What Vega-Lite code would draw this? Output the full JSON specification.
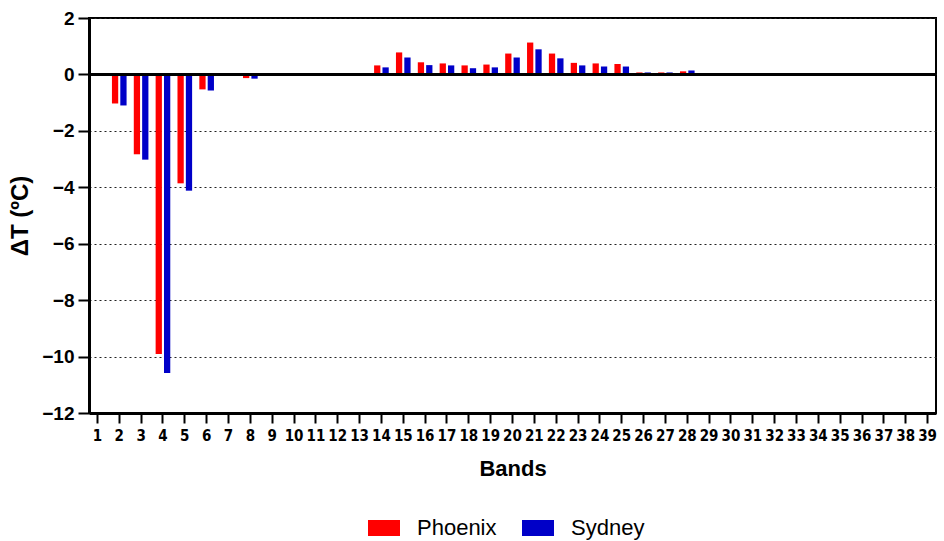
{
  "$schema": "https://vega.github.io/schema/vega-lite/v6.json",
  "width": 847,
  "height": 395,
  "autosize": {"type": "none"},
  "padding": {"left": 89, "top": 18, "right": 8, "bottom": 128},
  "background": "white",
  "config": {
    "view": {"stroke": "black", "strokeWidth": 2},
    "font": "Liberation Sans"
  },
  "data": {
    "values": [
      {"band": 2, "city": "Phoenix", "value": -1.03}, {"band": 2, "city": "Sydney", "value": -1.10},
      {"band": 3, "city": "Phoenix", "value": -2.83}, {"band": 3, "city": "Sydney", "value": -3.02},
      {"band": 4, "city": "Phoenix", "value": -9.91}, {"band": 4, "city": "Sydney", "value": -10.58},
      {"band": 5, "city": "Phoenix", "value": -3.86}, {"band": 5, "city": "Sydney", "value": -4.12},
      {"band": 6, "city": "Phoenix", "value": -0.53}, {"band": 6, "city": "Sydney", "value": -0.57},
      {"band": 8, "city": "Phoenix", "value": -0.13}, {"band": 8, "city": "Sydney", "value": -0.15},
      {"band": 14, "city": "Phoenix", "value": 0.32}, {"band": 14, "city": "Sydney", "value": 0.25},
      {"band": 15, "city": "Phoenix", "value": 0.78}, {"band": 15, "city": "Sydney", "value": 0.60},
      {"band": 16, "city": "Phoenix", "value": 0.43}, {"band": 16, "city": "Sydney", "value": 0.33},
      {"band": 17, "city": "Phoenix", "value": 0.39}, {"band": 17, "city": "Sydney", "value": 0.32},
      {"band": 18, "city": "Phoenix", "value": 0.32}, {"band": 18, "city": "Sydney", "value": 0.22},
      {"band": 19, "city": "Phoenix", "value": 0.35}, {"band": 19, "city": "Sydney", "value": 0.25},
      {"band": 20, "city": "Phoenix", "value": 0.74}, {"band": 20, "city": "Sydney", "value": 0.60},
      {"band": 21, "city": "Phoenix", "value": 1.13}, {"band": 21, "city": "Sydney", "value": 0.89},
      {"band": 22, "city": "Phoenix", "value": 0.74}, {"band": 22, "city": "Sydney", "value": 0.57},
      {"band": 23, "city": "Phoenix", "value": 0.41}, {"band": 23, "city": "Sydney", "value": 0.32},
      {"band": 24, "city": "Phoenix", "value": 0.39}, {"band": 24, "city": "Sydney", "value": 0.28},
      {"band": 25, "city": "Phoenix", "value": 0.37}, {"band": 25, "city": "Sydney", "value": 0.28},
      {"band": 26, "city": "Phoenix", "value": 0.07}, {"band": 26, "city": "Sydney", "value": 0.07},
      {"band": 27, "city": "Phoenix", "value": 0.07}, {"band": 27, "city": "Sydney", "value": 0.07},
      {"band": 28, "city": "Phoenix", "value": 0.11}, {"band": 28, "city": "Sydney", "value": 0.14}
    ]
  },
  "layer": [
    {
      "mark": {"type": "bar"},
      "encoding": {
        "x": {
          "field": "band", "type": "ordinal",
          "scale": {"domain": [1,2,3,4,5,6,7,8,9,10,11,12,13,14,15,16,17,18,19,20,21,22,23,24,25,26,27,28,29,30,31,32,33,34,35,36,37,38,39], "paddingInner": 0.33, "paddingOuter": 0.05},
          "axis": {
            "title": "Bands", "titleFont": "Liberation Sans", "titleFontSize": 22, "titleFontWeight": "bold", "titleColor": "black", "titlePadding": 15,
            "labelAngle": 0, "labelFont": "DejaVu Sans Condensed", "labelFontSize": 15, "labelFontWeight": "bold", "labelColor": "black", "labelPadding": 5,
            "labelOverlap": false, "labelFlush": false,
            "domainColor": "black", "domainWidth": 3,
            "tickColor": "black", "tickWidth": 2, "tickSize": 10
          }
        },
        "xOffset": {"field": "city", "type": "nominal", "scale": {"domain": ["Phoenix", "Sydney"], "paddingInner": 0.25}},
        "y": {
          "field": "value", "type": "quantitative",
          "scale": {"domain": [-12, 2], "nice": false, "zero": false},
          "axis": {
            "title": "ΔT (ºC)", "titleFont": "Liberation Sans", "titleFontSize": 24, "titleFontWeight": "bold", "titleColor": "black", "titlePadding": 9,
            "values": [-12, -10, -8, -6, -4, -2, 0, 2],
            "labelFont": "Liberation Sans", "labelFontSize": 19, "labelFontWeight": "bold", "labelColor": "black", "labelPadding": 4,
            "domainColor": "black", "domainWidth": 3,
            "tickColor": "black", "tickWidth": 2, "tickSize": 11,
            "grid": true, "gridColor": "#222222", "gridDash": [2, 3], "gridWidth": 1
          }
        },
        "color": {
          "field": "city", "type": "nominal",
          "scale": {"domain": ["Phoenix", "Sydney"], "range": ["#ff0000", "#0000c8"]},
          "legend": {
            "title": null, "orient": "none", "direction": "horizontal",
            "legendX": 279, "legendY": 494,
            "symbolType": "M-1,-0.5H1V0.5H-1Z", "symbolSize": 1024, "symbolStrokeWidth": 0, "symbolOpacity": 1,
            "labelFont": "Liberation Sans", "labelFontSize": 22, "labelColor": "black", "labelOffset": 17,
            "columnPadding": 25
          }
        }
      }
    },
    {
      "mark": {"type": "rule", "color": "black", "strokeWidth": 3},
      "encoding": {"y": {"datum": 0}}
    }
  ]
}
